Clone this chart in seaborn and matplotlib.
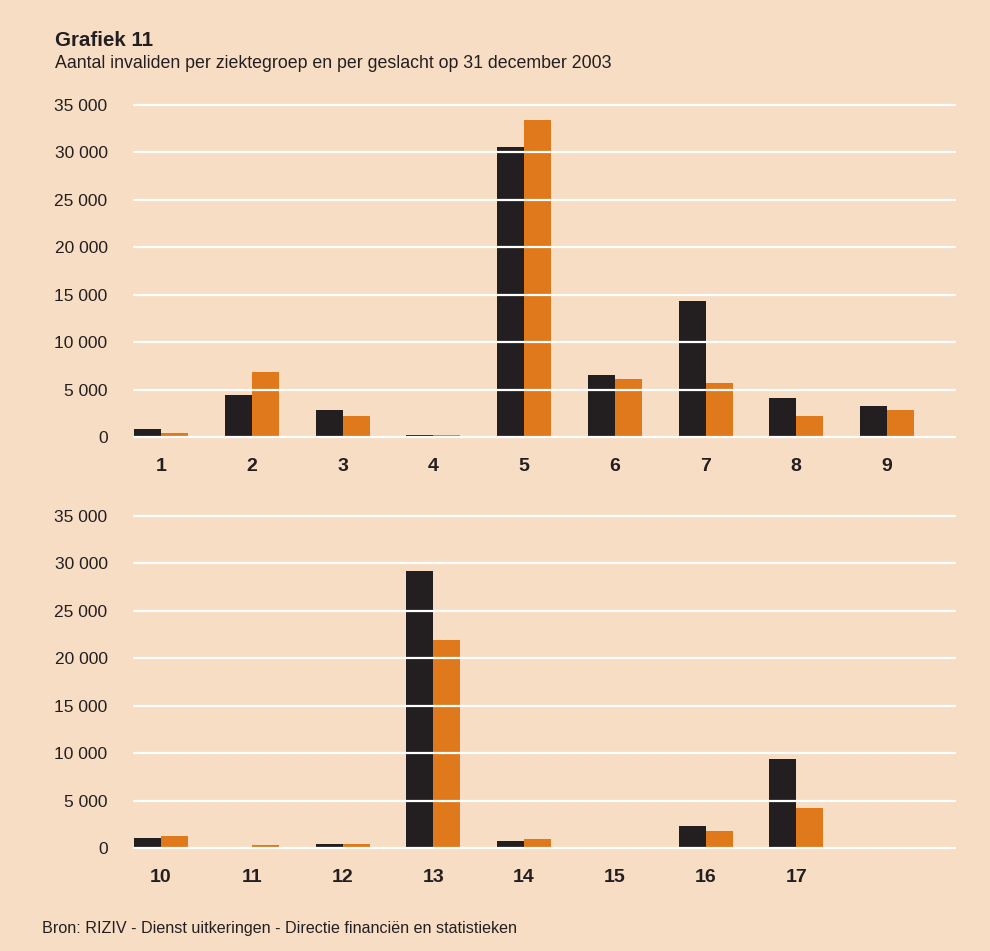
import matplotlib
matplotlib.use("Agg")
import matplotlib.pyplot as plt
import seaborn as sns
import pandas as pd

# Data
groups_top = ["1", "2", "3", "4", "5", "6", "7", "8", "9"]
men_top = [880, 4460, 2880, 250, 30570, 6540, 14340, 4140, 3300]
women_top = [450, 6880, 2250, 250, 33420, 6110, 5700, 2250, 2880]

groups_bottom = ["10", "11", "12", "13", "14", "15", "16", "17"]
men_bottom = [1050, 0, 420, 29200, 740, 0, 2320, 9380]
women_bottom = [1265, 320, 420, 21930, 950, 0, 1790, 4220]

yticks = [0, 5000, 10000, 15000, 20000, 25000, 30000, 35000]
ytick_labels = ["0", "5 000", "10 000", "15 000", "20 000", "25 000", "30 000", "35 000"]

title = "Grafiek 11"
subtitle = "Aantal invaliden per ziektegroep en per geslacht op 31 december 2003"
source = "Bron: RIZIV - Dienst uitkeringen - Directie financiën en statistieken"

BG = "#F8DDC5"
BLACK = "#231F20"
ORANGE = "#DF791C"

sns.set_theme(style="white")
plt.rcParams["font.family"] = ["Liberation Sans", "DejaVu Sans"]

fig = plt.figure(figsize=(9.9, 9.51), dpi=100)
fig.patch.set_facecolor(BG)

W, H = 990.0, 951.0
left = 134 / W
width = (955 - 134) / W
ax_top = fig.add_axes([left, 1 - 437 / H, width, (437 - 105) / H])
ax_bot = fig.add_axes([left, 1 - 848 / H, width, (848 - 516) / H])

SLOT = 90.75


def make_df(groups, men, women):
    return pd.DataFrame({
        "groep": groups * 2,
        "geslacht": ["M"] * len(groups) + ["V"] * len(groups),
        "aantal": list(men) + list(women),
    })


for ax, groups, men, women in [
    (ax_top, groups_top, men_top, women_top),
    (ax_bot, groups_bottom, men_bottom, women_bottom),
]:
    df = make_df(groups, men, women)
    sns.barplot(data=df, x="groep", y="aantal", hue="geslacht",
                palette={"M": BLACK, "V": ORANGE}, order=groups,
                width=54 / SLOT, gap=0, saturation=1, legend=False,
                linewidth=0, errorbar=None, ax=ax)
    ax.set_facecolor(BG)
    ax.set_xlim(-27 / SLOT, (955 - 134 - 27) / SLOT)
    ax.set_ylim(0, 35000)
    ax.set_yticks(yticks)
    ax.set_yticklabels(ytick_labels, fontsize=12.5, color="#231F20")
    for y in yticks:
        ax.axhline(y, color="white", lw=1.6, zorder=5, clip_on=False)
    for s in ax.spines.values():
        s.set_visible(False)
    ax.tick_params(axis="y", length=0, pad=19)
    ax.tick_params(axis="x", length=0, pad=15)
    for lab in ax.get_xticklabels():
        lab.set_fontweight("bold")
        lab.set_fontsize(14)
        lab.set_color("#231F20")
    ax.set_xlabel("")
    ax.set_ylabel("")

fig.text(55 / W, 1 - 40 / H, title, fontsize=14.8, fontweight="bold",
         color="#231F20", va="center", ha="left")
fig.text(55 / W, 1 - 63 / H, subtitle, fontsize=12.8,
         color="#231F20", va="center", ha="left")
fig.text(42 / W, 1 - 929 / H, source, fontsize=11.6,
         color="#231F20", va="center", ha="left")

fig.savefig("out.png", dpi=100, facecolor=BG)
